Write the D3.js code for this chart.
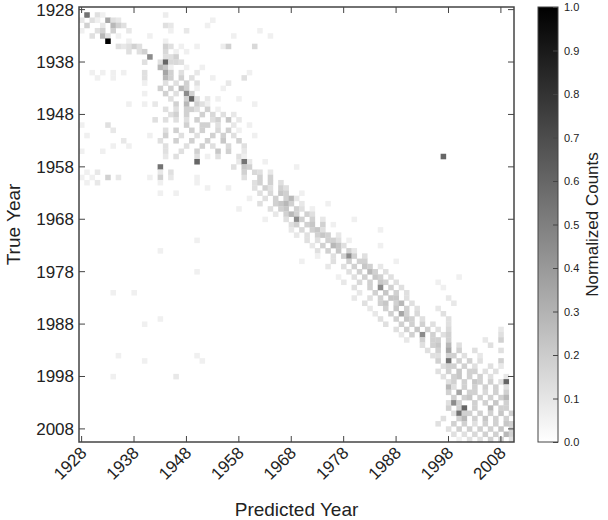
<!DOCTYPE html>
<html>
<head>
<meta charset="utf-8">
<script src="https://cdn.jsdelivr.net/npm/d3@7"></script>
<style>
  body { margin: 0; background: #fff; }
  text { font-family: "Liberation Sans", Arial, sans-serif; }
</style>
</head>
<body>
<svg id="chart" width="608" height="520"></svg>
<script>
// years on both axes
const years = d3.range(1928, 2011)
const tickYears = [1928, 1938, 1948, 1958, 1968, 1978, 1988, 1998, 2008]
const colorTicks = [0, 0.1, 0.2, 0.3, 0.4, 0.5, 0.6, 0.7, 0.8, 0.9, 1.0]

// [trueYear, predictedYear, normalized count] (blank cells = 0)
const cells = [
  [1929,1929,.55],[1929,1931,.12],[1929,1932,.06],[1929,1944,.07],
  [1930,1928,.09],[1930,1930,.12],[1930,1931,.06],[1930,1933,.35],[1930,1934,.12],[1930,1935,.09],[1930,1953,.06],
  [1931,1929,.18],[1931,1932,.09],[1931,1934,.28],[1931,1935,.18],[1931,1936,.12],[1931,1944,.12],[1931,1945,.09],[1931,1952,.06],
  [1932,1928,.06],[1932,1931,.12],[1932,1932,.18],[1932,1934,.18],[1932,1937,.09],[1932,1945,.06],[1932,1948,.09],[1932,1962,.06],
  [1933,1930,.12],[1933,1932,.28],[1933,1933,.12],[1933,1935,.06],[1933,1941,.06],[1933,1957,.06],[1933,1964,.06],
  [1934,1933,1.0],[1934,1937,.06],[1934,1944,.06],
  [1935,1935,.12],[1935,1936,.09],[1935,1937,.12],[1935,1938,.18],[1935,1939,.12],[1935,1944,.18],[1935,1945,.12],[1935,1947,.06],[1935,1950,.06],[1935,1955,.07],[1935,1956,.18],[1935,1961,.15],
  [1936,1937,.12],[1936,1939,.12],[1936,1940,.18],[1936,1944,.15],[1936,1946,.06],[1936,1948,.06],
  [1937,1941,.45],[1937,1944,.12],[1937,1945,.12],[1937,1946,.18],
  [1938,1940,.12],[1938,1943,.12],[1938,1944,.6],[1938,1945,.15],[1938,1946,.15],[1938,1947,.12],
  [1939,1943,.28],[1939,1944,.22],[1939,1945,.06],[1939,1948,.06],[1939,1951,.06],
  [1940,1930,.06],[1940,1932,.06],[1940,1934,.06],[1940,1936,.06],[1940,1940,.12],[1940,1944,.35],[1940,1945,.18],[1940,1947,.12],[1940,1950,.09],[1940,1960,.06],
  [1941,1931,.06],[1941,1934,.06],[1941,1940,.12],[1941,1944,.28],[1941,1945,.18],[1941,1947,.18],[1941,1949,.12],[1941,1953,.06],[1941,1959,.12],
  [1942,1940,.06],[1942,1944,.12],[1942,1946,.12],[1942,1948,.18],[1942,1950,.12],[1942,1956,.09],
  [1943,1943,.18],[1943,1945,.18],[1943,1947,.28],[1943,1948,.18],[1943,1950,.06],[1943,1955,.06],
  [1944,1940,.06],[1944,1944,.18],[1944,1946,.12],[1944,1948,.45],[1944,1949,.18],
  [1945,1945,.12],[1945,1948,.18],[1945,1949,.6],[1945,1950,.12],[1945,1952,.09],[1945,1954,.06],[1945,1958,.06],
  [1946,1937,.06],[1946,1940,.06],[1946,1942,.09],[1946,1946,.18],[1946,1948,.28],[1946,1950,.18],[1946,1951,.12],[1946,1952,.06],[1946,1961,.06],
  [1947,1944,.12],[1947,1946,.12],[1947,1948,.18],[1947,1949,.18],[1947,1950,.12],[1947,1952,.18],[1947,1954,.06],
  [1948,1945,.12],[1948,1946,.18],[1948,1948,.18],[1948,1951,.18],[1948,1953,.15],[1948,1955,.12],[1948,1957,.09],
  [1949,1942,.12],[1949,1944,.12],[1949,1946,.12],[1949,1948,.12],[1949,1950,.18],[1949,1953,.12],[1949,1954,.18],[1949,1956,.22],[1949,1958,.09],
  [1950,1928,.06],[1950,1933,.12],[1950,1948,.18],[1950,1951,.18],[1950,1952,.18],[1950,1954,.12],[1950,1957,.09],[1950,1960,.06],
  [1951,1934,.09],[1951,1944,.12],[1951,1946,.18],[1951,1949,.18],[1951,1951,.18],[1951,1954,.15],[1951,1956,.18],[1951,1958,.06],
  [1952,1929,.06],[1952,1941,.06],[1952,1944,.18],[1952,1947,.12],[1952,1950,.12],[1952,1953,.18],[1952,1955,.18],[1952,1957,.12],[1952,1961,.06],
  [1953,1936,.09],[1953,1943,.12],[1953,1946,.18],[1953,1949,.18],[1953,1952,.18],[1953,1955,.22],[1953,1958,.18],
  [1954,1934,.06],[1954,1937,.06],[1954,1944,.12],[1954,1948,.12],[1954,1951,.18],[1954,1953,.12],[1954,1956,.15],[1954,1959,.12],
  [1955,1928,.06],[1955,1932,.06],[1955,1944,.12],[1955,1947,.12],[1955,1950,.18],[1955,1954,.22],[1955,1956,.18],[1955,1959,.09],
  [1956,1944,.09],[1956,1946,.12],[1956,1950,.12],[1956,1952,.06],[1956,1954,.12],[1956,1958,.12],[1956,1959,.06],[1956,1997,.6],
  [1957,1950,.6],[1957,1958,.09],[1957,1960,.09],[1957,1959,.55],[1957,1963,.06],
  [1958,1943,.55],[1958,1957,.12],[1958,1959,.22],[1958,1960,.18],[1958,1969,.06],
  [1959,1929,.06],[1959,1931,.09],[1959,1943,.09],[1959,1945,.12],[1959,1959,.18],[1959,1961,.15],[1959,1962,.12],[1959,1964,.09],
  [1960,1928,.06],[1960,1930,.06],[1960,1933,.18],[1960,1935,.09],[1960,1941,.06],[1960,1943,.18],[1960,1945,.09],[1960,1950,.06],[1960,1959,.12],[1960,1962,.18],[1960,1964,.18],
  [1961,1929,.06],[1961,1931,.09],[1961,1943,.06],[1961,1950,.06],[1961,1961,.12],[1961,1962,.18],[1961,1964,.18],[1961,1966,.12],
  [1962,1952,.06],[1962,1956,.06],[1962,1961,.12],[1962,1963,.18],[1962,1964,.12],[1962,1966,.18],[1962,1967,.12],
  [1963,1943,.06],[1963,1946,.06],[1963,1962,.12],[1963,1964,.15],[1963,1966,.22],[1963,1967,.18],[1963,1970,.06],
  [1964,1960,.06],[1964,1963,.12],[1964,1965,.18],[1964,1967,.18],[1964,1968,.28],[1964,1969,.09],
  [1965,1962,.12],[1965,1965,.18],[1965,1966,.22],[1965,1967,.28],[1965,1968,.18],[1965,1970,.09],[1965,1975,.06],
  [1966,1958,.06],[1966,1964,.12],[1966,1966,.18],[1966,1967,.22],[1966,1969,.18],[1966,1970,.12],[1966,1972,.06],
  [1967,1965,.09],[1967,1967,.18],[1967,1968,.28],[1967,1969,.18],[1967,1971,.18],[1967,1972,.12],
  [1968,1963,.06],[1968,1967,.12],[1968,1969,.45],[1968,1970,.18],[1968,1972,.18],[1968,1974,.09],[1968,1980,.06],
  [1969,1968,.12],[1969,1969,.18],[1969,1971,.18],[1969,1972,.22],[1969,1974,.18],[1969,1976,.06],
  [1970,1968,.09],[1970,1970,.15],[1970,1972,.18],[1970,1973,.22],[1970,1974,.12],[1970,1985,.06],
  [1971,1969,.09],[1971,1971,.12],[1971,1973,.18],[1971,1974,.22],[1971,1975,.18],[1971,1977,.09],
  [1972,1950,.06],[1972,1971,.12],[1972,1973,.12],[1972,1975,.18],[1972,1976,.18],[1972,1977,.12],[1972,1979,.06],
  [1973,1972,.09],[1973,1974,.18],[1973,1976,.28],[1973,1977,.22],[1973,1978,.12],[1973,1985,.06],
  [1974,1943,.06],[1974,1973,.12],[1974,1975,.18],[1974,1977,.22],[1974,1979,.18],[1974,1980,.09],
  [1975,1973,.06],[1975,1976,.12],[1975,1978,.18],[1975,1979,.45],[1975,1980,.18],[1975,1982,.12],
  [1976,1970,.06],[1976,1976,.12],[1976,1979,.18],[1976,1981,.18],[1976,1982,.18],[1976,1988,.06],
  [1977,1975,.09],[1977,1978,.12],[1977,1980,.18],[1977,1982,.22],[1977,1983,.18],[1977,1985,.09],
  [1978,1950,.06],[1978,1979,.12],[1978,1981,.18],[1978,1983,.28],[1978,1984,.18],[1978,1986,.12],
  [1979,1977,.06],[1979,1980,.12],[1979,1982,.18],[1979,1984,.22],[1979,1985,.18],[1979,1987,.12],[1979,2000,.06],
  [1980,1978,.09],[1980,1981,.15],[1980,1983,.18],[1980,1985,.22],[1980,1986,.18],[1980,1988,.12],[1980,1996,.06],
  [1981,1980,.12],[1981,1983,.18],[1981,1985,.45],[1981,1987,.18],[1981,1989,.12],[1981,1997,.06],
  [1982,1934,.06],[1982,1938,.06],[1982,1981,.09],[1982,1984,.18],[1982,1986,.22],[1982,1988,.18],[1982,1990,.12],
  [1983,1980,.09],[1983,1983,.12],[1983,1985,.18],[1983,1987,.22],[1983,1988,.22],[1983,1990,.12],[1983,1998,.09],
  [1984,1982,.12],[1984,1985,.18],[1984,1986,.22],[1984,1988,.18],[1984,1989,.28],[1984,1991,.12],[1984,1999,.09],
  [1985,1983,.09],[1985,1986,.18],[1985,1988,.22],[1985,1990,.18],[1985,1992,.12],[1985,1996,.09],
  [1986,1984,.09],[1986,1987,.18],[1986,1989,.35],[1986,1990,.18],[1986,1992,.15],[1986,1997,.12],
  [1987,1943,.06],[1987,1985,.12],[1987,1988,.18],[1987,1990,.22],[1987,1991,.18],[1987,1993,.12],[1987,1998,.12],
  [1988,1940,.06],[1988,1986,.12],[1988,1989,.18],[1988,1991,.18],[1988,1993,.18],[1988,1995,.12],[1988,1998,.12],
  [1989,1988,.12],[1989,1990,.18],[1989,1992,.22],[1989,1994,.18],[1989,1996,.12],[1989,1998,.15],[1989,2008,.09],
  [1990,1989,.09],[1990,1991,.18],[1990,1993,.45],[1990,1995,.18],[1990,1997,.12],[1990,1998,.18],[1990,2008,.12],
  [1991,1990,.09],[1991,1993,.18],[1991,1995,.18],[1991,1996,.18],[1991,1998,.18],[1991,2005,.09],[1991,2008,.18],
  [1992,1993,.12],[1992,1995,.18],[1992,1996,.22],[1992,1998,.28],[1992,2000,.12],[1992,2006,.12],
  [1993,1994,.12],[1993,1996,.18],[1993,1998,.35],[1993,2000,.18],[1993,2003,.12],[1993,2008,.12],
  [1994,1935,.06],[1994,1950,.06],[1994,1995,.12],[1994,1996,.12],[1994,1998,.18],[1994,1999,.18],[1994,2001,.12],[1994,2004,.09],
  [1995,1940,.06],[1995,1951,.06],[1995,1996,.18],[1995,1998,.55],[1995,2000,.18],[1995,2002,.18],[1995,2004,.12],[1995,2008,.18],
  [1996,1997,.12],[1996,1998,.18],[1996,1999,.18],[1996,2001,.18],[1996,2003,.12],[1996,2006,.12],[1996,2008,.09],
  [1997,1996,.12],[1997,1998,.18],[1997,2000,.22],[1997,2002,.18],[1997,2003,.18],[1997,2005,.12],[1997,2007,.12],
  [1998,1934,.06],[1998,1946,.09],[1998,1997,.12],[1998,1999,.18],[1998,2000,.22],[1998,2002,.18],[1998,2004,.18],[1998,2006,.12],[1998,2009,.09],
  [1999,1998,.12],[1999,1999,.18],[1999,2001,.18],[1999,2003,.22],[1999,2004,.18],[1999,2006,.18],[1999,2008,.12],[1999,2009,.6],
  [2000,1998,.28],[2000,1999,.12],[2000,2001,.18],[2000,2003,.18],[2000,2005,.18],[2000,2007,.18],[2000,2009,.12],
  [2001,1998,.18],[2001,2000,.35],[2001,2002,.18],[2001,2003,.18],[2001,2005,.15],[2001,2007,.18],[2001,2009,.18],
  [2002,1999,.18],[2002,2001,.18],[2002,2002,.22],[2002,2004,.18],[2002,2006,.18],[2002,2008,.18],[2002,2009,.28],
  [2003,1998,.12],[2003,1999,.45],[2003,2000,.18],[2003,2003,.18],[2003,2005,.18],[2003,2007,.22],[2003,2009,.18],
  [2004,1998,.18],[2004,2000,.18],[2004,2001,.6],[2004,2003,.18],[2004,2006,.28],[2004,2008,.18],[2004,2009,.18],
  [2005,1999,.12],[2005,2000,.55],[2005,2001,.18],[2005,2002,.18],[2005,2004,.18],[2005,2006,.18],[2005,2008,.22],[2005,2010,.18],
  [2006,1997,.12],[2006,2000,.18],[2006,2001,.28],[2006,2003,.18],[2006,2005,.22],[2006,2007,.18],[2006,2009,.18],
  [2007,1996,.12],[2007,1999,.18],[2007,2001,.18],[2007,2003,.12],[2007,2005,.18],[2007,2007,.18],[2007,2009,.22],[2007,2010,.18],
  [2008,1998,.12],[2008,2000,.18],[2008,2002,.18],[2008,2004,.18],[2008,2006,.18],[2008,2008,.22],[2008,2010,.18],
  [2009,1999,.12],[2009,2001,.12],[2009,2003,.15],[2009,2005,.18],[2009,2007,.18],[2009,2009,.28],[2009,2010,.18],
  [2010,2000,.06],[2010,2002,.12],[2010,2004,.12],[2010,2006,.18],[2010,2008,.18],[2010,2010,.12]
]

const svg = d3.select('#chart')
const plotL = 79, plotR = 514, plotT = 7, plotB = 442

const x = d3.scaleBand().domain(years).range([plotL, plotR])
const y = d3.scaleBand().domain(years).range([plotT, plotB])
const color = d3.scaleLinear().domain([0, 1]).range(['#ffffff', '#000000'])

svg.append('g').selectAll('rect').data(cells).enter().append('rect')
  .attr('x', d => x(d[1]))
  .attr('y', d => y(d[0]))
  .attr('width', x.bandwidth() + 0.3)
  .attr('height', y.bandwidth() + 0.3)
  .attr('fill', d => color(d[2]))

svg.append('rect').attr('x', plotL).attr('y', plotT)
  .attr('width', plotR - plotL).attr('height', plotB - plotT)
  .attr('fill', 'none').attr('stroke', '#444').attr('stroke-width', 1.5)

const half = x.bandwidth() / 2
tickYears.forEach(t => {
  const px = x(t) + half
  svg.append('line').attr('x1', px).attr('x2', px).attr('y1', plotB).attr('y2', plotB - 6).attr('stroke', '#444')
  svg.append('line').attr('x1', px).attr('x2', px).attr('y1', plotT).attr('y2', plotT + 6).attr('stroke', '#444')
  svg.append('text').attr('transform', `translate(${px + 6},${plotB + 12}) rotate(-45)`)
    .attr('text-anchor', 'end').attr('font-size', 17).attr('fill', '#222').text(t)
})
tickYears.forEach(t => {
  const py = y(t) + y.bandwidth() / 2
  svg.append('line').attr('x1', plotL).attr('x2', plotL + 6).attr('y1', py).attr('y2', py).attr('stroke', '#444')
  svg.append('line').attr('x1', plotR).attr('x2', plotR - 6).attr('y1', py).attr('y2', py).attr('stroke', '#444')
  svg.append('text').attr('x', plotL - 5).attr('y', py + 6).attr('text-anchor', 'end')
    .attr('font-size', 17).attr('fill', '#222').text(t)
})

svg.append('text').attr('x', (plotL + plotR) / 2).attr('y', 516).attr('text-anchor', 'middle')
  .attr('font-size', 19).attr('fill', '#222').text('Predicted Year')
svg.append('text').attr('transform', `translate(20,${(plotT + plotB) / 2}) rotate(-90)`)
  .attr('text-anchor', 'middle').attr('font-size', 19).attr('fill', '#222').text('True Year')

// colorbar
const cbX = 538, cbW = 20
const cy = d3.scaleLinear().domain([0, 1]).range([plotB, plotT])
const grad = svg.append('defs').append('linearGradient').attr('id', 'cb')
  .attr('x1', 0).attr('y1', 1).attr('x2', 0).attr('y2', 0)
grad.append('stop').attr('offset', 0).attr('stop-color', color(0))
grad.append('stop').attr('offset', 1).attr('stop-color', color(1))
svg.append('rect').attr('x', cbX).attr('y', plotT).attr('width', cbW).attr('height', plotB - plotT)
  .attr('fill', 'url(#cb)').attr('stroke', '#444')
const cbAxis = svg.append('g').attr('transform', `translate(${cbX + cbW},0)`)
  .call(d3.axisRight(cy).tickValues(colorTicks).tickFormat(d3.format('.1f')).tickSize(-5).tickPadding(6))
cbAxis.select('.domain').remove()
cbAxis.selectAll('text').attr('font-size', 11).attr('fill', '#222')
cbAxis.selectAll('line').attr('stroke', '#444')
svg.append('text').attr('transform', `translate(598,${(plotT + plotB) / 2}) rotate(-90)`)
  .attr('text-anchor', 'middle').attr('font-size', 17).attr('fill', '#222').text('Normalized Counts')
</script>
</body>
</html>
